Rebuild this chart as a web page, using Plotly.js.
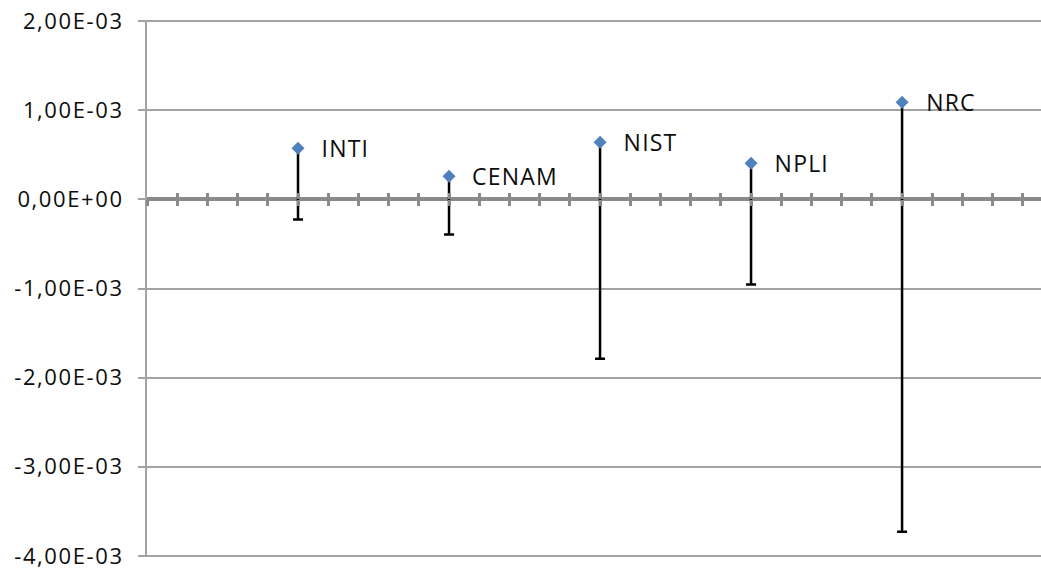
<!DOCTYPE html>
<html>
<head>
<meta charset="utf-8">
<script src="https://cdn.plot.ly/plotly-3.0.1.min.js"></script>
<style>
  html, body { margin: 0; padding: 0; background: #ffffff; }
  #chart { width: 1041px; height: 569px; }
  #chart .ytick text { letter-spacing: 1.6px; }
  #chart .annotation-text { letter-spacing: 1.2px; }
</style>
</head>
<body>
<div id="chart"></div>
<script>
// Laboratories and their deviations with lower uncertainty
const labs = ['INTI', 'CENAM', 'NIST', 'NPLI', 'NRC'];
const labPos = [1, 2, 3, 4, 5];
const deviation = [0.573e-3, 0.258e-3, 0.640e-3, 0.404e-3, 1.090e-3];
const uncMinus = [0.798e-3, 0.651e-3, 2.427e-3, 1.359e-3, 4.820e-3];
const uncPlus = [0, 0, 0, 0, 0];

const yTickVals = [2e-3, 1e-3, 0, -1e-3, -2e-3, -3e-3, -4e-3];
const yTickText = ['2,00E-03', '1,00E-03', '0,00E+00', '-1,00E-03', '-2,00E-03', '-3,00E-03', '-4,00E-03'];

const FONT = 'Open Sans, Lato, sans-serif';
const GRID = '#a3a3a3';
const AXIS = '#8a8a8a';

const trace = {
  type: 'scatter',
  mode: 'markers',
  x: labPos,
  y: deviation,
  marker: { symbol: 'diamond', size: 10, color: '#4f81bd' },
  error_y: {
    type: 'data',
    symmetric: false,
    array: uncPlus,
    arrayminus: uncMinus,
    color: '#000000',
    thickness: 2.5,
    width: 5
  },
  hoverinfo: 'skip',
  showlegend: false
};

const annotations = labs.map((name, i) => ({
  x: labPos[i],
  y: deviation[i],
  xref: 'x',
  yref: 'y',
  text: name,
  showarrow: false,
  xanchor: 'left',
  yanchor: 'middle',
  xshift: 24,
  font: { family: FONT, size: 23, color: '#0d0d0d' }
}));

const xTicks = {
  range: [0, 5.92],
  showgrid: false,
  zeroline: false,
  showline: false,
  showticklabels: false,
  tickmode: 'linear',
  tick0: 0,
  dtick: 0.2,
  ticklen: 6,
  tickwidth: 3,
  tickcolor: AXIS,
  anchor: 'free',
  position: 4.012 / 6.024
};

const layout = {
  width: 1041,
  height: 569,
  margin: { l: 147, r: 0, t: 20, b: 12 },
  paper_bgcolor: '#ffffff',
  plot_bgcolor: '#ffffff',
  showlegend: false,
  xaxis: Object.assign({}, xTicks, { ticks: 'outside' }),
  xaxis2: Object.assign({}, xTicks, { ticks: 'inside', overlaying: 'x' }),
  yaxis: {
    range: [-4.012e-3, 2.012e-3],
    tickmode: 'array',
    tickvals: yTickVals,
    ticktext: yTickText,
    showgrid: true,
    gridcolor: GRID,
    gridwidth: 2,
    zeroline: true,
    zerolinecolor: AXIS,
    zerolinewidth: 4,
    showline: true,
    linecolor: GRID,
    linewidth: 2,
    ticks: 'outside',
    ticklen: 7,
    tickwidth: 2,
    tickcolor: GRID,
    ticklabelstandoff: 10,
    ticklabeloverflow: 'allow',
    tickfont: { family: FONT, size: 22, color: '#0d0d0d' }
  },
  annotations: annotations
};

// empty companion trace so the second tick axis is rendered
const tickTrace = {
  type: 'scatter', mode: 'markers', x: [], y: [], xaxis: 'x2', yaxis: 'y',
  hoverinfo: 'skip', showlegend: false
};

Plotly.newPlot('chart', [trace, tickTrace], layout, { staticPlot: true, displayModeBar: false });
</script>
</body>
</html>
